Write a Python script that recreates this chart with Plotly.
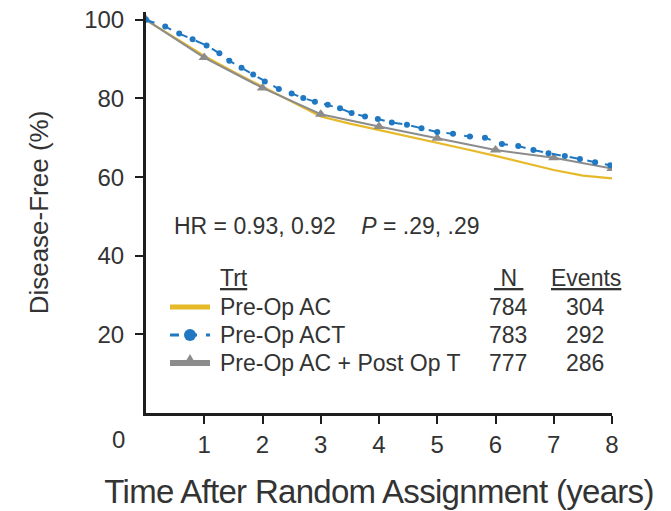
import plotly.graph_objects as go

# Disease-free survival curves by treatment arm (years, %)
ac_years = [0, 0.5, 1, 1.5, 2, 2.5, 3, 3.5, 4, 4.5, 5, 5.5, 6, 6.5, 7, 7.5, 8]
ac_pct = [100, 95.3, 90.8, 86.8, 83.0, 79.3, 75.4, 73.6, 72.0, 70.4, 68.8, 67.1, 65.4, 63.6, 61.8, 60.4, 59.7]

act_years = [0, 0.33, 0.57, 0.80, 1.04, 1.26, 1.43, 1.64, 1.84, 2.04, 2.28, 2.50, 2.70, 2.90,
             3.12, 3.33, 3.53, 3.76, 3.98, 4.22, 4.48, 4.73, 5.00, 5.27, 5.56, 5.82, 6.11,
             6.39, 6.65, 6.91, 7.19, 7.45, 7.71, 7.97]
act_pct = [100, 98.3, 96.5, 95.1, 93.5, 91.5, 89.6, 87.8, 86.1, 84.3, 82.4, 81.3, 80.1, 79.2,
           78.4, 77.5, 76.3, 75.4, 74.8, 73.9, 73.3, 72.4, 71.5, 71.0, 70.3, 70.0, 68.4,
           67.9, 66.9, 66.1, 65.4, 64.6, 63.8, 63.0]

acpt_years = [0, 1, 2, 3, 4, 5, 6, 7, 8]
acpt_pct = [100, 90.4, 82.7, 76.0, 72.9, 69.9, 66.9, 64.9, 62.2]

# Legend table
arm_names = ["Pre-Op AC", "Pre-Op ACT", "Pre-Op AC + Post Op T"]
arm_n = [784, 783, 777]
arm_events = [304, 292, 286]
hr_text = "HR = 0.93, 0.92"
p_text = ".29, .29"

x_ticks = [1, 2, 3, 4, 5, 6, 7, 8]
y_ticks = [20, 40, 60, 80, 100]

YELLOW = "#E6B928"
BLUE = "#1F78C1"
GRAY = "#8C8C8C"
TEXT = "#333333"
AXIS = "#1E1E1E"
FONT = "Liberation Sans, Arial, sans-serif"
TSIZE = 23

W, H = 671, 511
ML, MR, MT, MB = 146, 59, 12, 98
PW, PH = W - ML - MR, H - MT - MB


def px(x):
    return (x - ML) / PW


def py(y):
    return (H - MB - y) / PH


fig = go.Figure()

fig.add_trace(go.Scatter(x=ac_years, y=ac_pct, mode="lines", name=arm_names[0],
                         line=dict(color=YELLOW, width=2.2)))
fig.add_trace(go.Scatter(x=acpt_years, y=acpt_pct, mode="lines+markers", name=arm_names[2],
                         line=dict(color=GRAY, width=2),
                         marker=dict(symbol="triangle-up", size=10, color=GRAY)))
fig.add_trace(go.Scatter(x=act_years, y=act_pct, mode="lines+markers", name=arm_names[1],
                         line=dict(color=BLUE, width=2, dash="dash"),
                         marker=dict(symbol="circle", size=6, color=BLUE)))


def label(x, y, text, anchor="left", size=TSIZE):
    return dict(x=px(x), y=py(y), xref="paper", yref="paper", xanchor=anchor,
                yanchor="middle", showarrow=False, text=text,
                font=dict(family=FONT, size=size, color=TEXT))


ul = '<span style="text-decoration:underline">{}</span>'
ann = [
    label(172, 226, hr_text + "&nbsp;&nbsp;&nbsp;&nbsp;<i>P</i> = " + p_text),
    label(218, 278, ul.format("Trt")),
    label(508, 278, ul.format("&nbsp;N&nbsp;"), "center"),
    label(586, 278, ul.format("Events"), "center"),
    label(118, 440, "0", "center", 24),
]
row_y = [307, 335, 363]
for name, n, ev, yy in zip(arm_names, arm_n, arm_events, row_y):
    ann.append(label(218, yy, name))
    ann.append(label(508, yy, str(n), "center"))
    ann.append(label(585, yy, str(ev), "center"))

# legend keys drawn beside the treatment names
def seg(y, color, width, dash="solid"):
    return dict(type="line", xref="paper", yref="paper", x0=px(170), x1=px(210),
                y0=py(y), y1=py(y), line=dict(color=color, width=width, dash=dash))


shapes = [
    seg(row_y[0], YELLOW, 5),
    seg(row_y[1], BLUE, 3, "dash"),
    dict(type="circle", xref="paper", yref="paper", x0=px(184), x1=px(196),
         y0=py(row_y[1] - 6), y1=py(row_y[1] + 6), fillcolor=BLUE,
         line=dict(color=BLUE, width=0)),
    seg(row_y[2], GRAY, 6),
    dict(type="path", xref="paper", yref="paper",
         path="M {a},{b} L {c},{b} L {d},{e} Z".format(
             a=px(183), b=py(row_y[2] + 3), c=px(197), d=px(190), e=py(row_y[2] - 9)),
         fillcolor=GRAY, line=dict(color=GRAY, width=0)),
]

xtitle = '<span style="letter-spacing:-0.7px">Time After Random Assignment (years)</span>'

fig.update_layout(
    width=W, height=H,
    margin=dict(l=ML, r=MR, t=MT, b=MB, autoexpand=False),
    paper_bgcolor="white", plot_bgcolor="white",
    showlegend=False,
    annotations=ann,
    shapes=shapes,
    xaxis=dict(range=[0, 8], tickvals=x_ticks, ticks="outside", ticklen=8, tickwidth=1.5,
               tickcolor=AXIS, showline=True, linecolor=AXIS, linewidth=3,
               showgrid=False, zeroline=False,
               tickfont=dict(family=FONT, size=24, color=TEXT),
               title=dict(text=xtitle, standoff=24,
                          font=dict(family=FONT, size=33, color=TEXT))),
    yaxis=dict(range=[0, 102], tickvals=y_ticks, ticks="outside", ticklen=8, tickwidth=1.5,
               tickcolor=AXIS, showline=True, linecolor=AXIS, linewidth=3,
               showgrid=False, zeroline=False, ticklabelstandoff=6,
               tickfont=dict(family=FONT, size=24, color=TEXT),
               title=dict(text="Disease-Free (%)", standoff=29,
                          font=dict(family=FONT, size=26, color=TEXT))),
)

fig.write_html("out.html")
